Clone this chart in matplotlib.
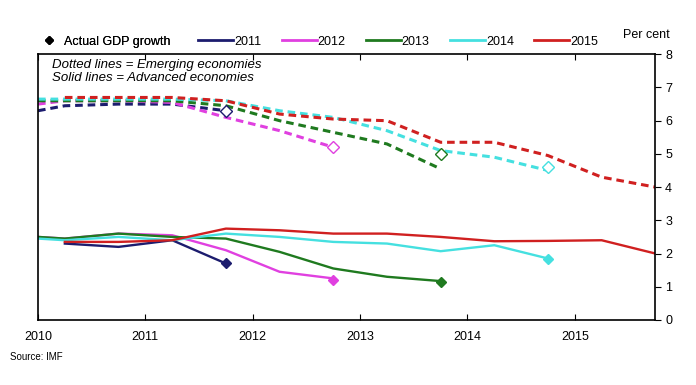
import matplotlib.pyplot as plt
from matplotlib.lines import Line2D

plt.rcParams['font.family'] = ['Liberation Sans', 'DejaVu Sans']

# semi-annual forecast dates
t = [2010.0, 2010.25, 2010.75, 2011.25, 2011.75, 2012.25, 2012.75,
     2013.25, 2013.75, 2014.25, 2014.75, 2015.25, 2015.75]

# emerging economies (dashed)
em_2011 = [6.3, 6.45, 6.5, 6.5, 6.3]
em_2012 = [6.5, 6.6, 6.6, 6.55, 6.1, 5.7, 5.2]
em_2013 = [6.6, 6.6, 6.6, 6.6, 6.45, 6.0, 5.65, 5.3, 4.55]
em_2014 = [6.65, 6.65, 6.65, 6.65, 6.6, 6.3, 6.1, 5.7, 5.1, 4.9, 4.5]
em_2015 = [None, 6.7, 6.7, 6.7, 6.6, 6.2, 6.05, 6.0, 5.35, 5.35, 4.95, 4.3, 4.0]

# advanced economies (solid)
ae_2011 = [None, 2.3, 2.2, 2.4, 1.7]
ae_2012 = [2.5, 2.45, 2.6, 2.55, 2.1, 1.45, 1.25]
ae_2013 = [2.5, 2.45, 2.6, 2.5, 2.45, 2.05, 1.55, 1.3, 1.17]
ae_2014 = [2.45, 2.4, 2.5, 2.4, 2.6, 2.5, 2.35, 2.3, 2.07, 2.25, 1.85]
ae_2015 = [None, 2.35, 2.35, 2.4, 2.75, 2.7, 2.6, 2.6, 2.5, 2.37, 2.38, 2.4, 2.0]

# actual outturns
act_x = [2011.75, 2012.75, 2013.75, 2014.75]
act_em = [6.3, 5.2, 5.0, 4.6]
act_ae = [1.7, 1.2, 1.15, 1.85]

labels = ["2011", "2012", "2013", "2014", "2015"]
colors = ["#1c1c6e", "#e040e0", "#1f7a1f", "#45e0e0", "#d02020"]

em = [em_2011, em_2012, em_2013, em_2014, em_2015]
ae = [ae_2011, ae_2012, ae_2013, ae_2014, ae_2015]

fig = plt.figure(figsize=(6.96, 3.85), dpi=100)
ax = fig.add_axes([0.0546, 0.169, 0.887, 0.69])

for i in range(5):
    xs = [x for x, v in zip(t, em[i]) if v is not None]
    vs = [v for v in em[i] if v is not None]
    ax.plot(xs, vs, color=colors[i], lw=2.2, ls=(0, (2.5, 1.6)))
    xs = [x for x, v in zip(t, ae[i]) if v is not None]
    vs = [v for v in ae[i] if v is not None]
    ax.plot(xs, vs, color=colors[i], lw=1.7)

for i in range(4):
    ax.plot(act_x[i], act_em[i], marker="D", ms=6.5, mfc="white", mec=colors[i], mew=1)
    ax.plot(act_x[i], act_ae[i], marker="D", ms=5.5, color=colors[i])

ax.set_xlim(2010, 2015.75)
ax.set_ylim(0, 8)
ax.set_xticks([2010, 2011, 2012, 2013, 2014, 2015])
ax.set_xticklabels(["2010", "2011", "2012", "2013", "2014", "2015"])
ax.set_yticks(range(0, 9))
ax.yaxis.tick_right()
ax.tick_params(axis="x", direction="in", length=4, top=True, labelsize=9, pad=8)
ax.tick_params(axis="y", direction="out", length=4, labelsize=9, pad=3)
for s in ax.spines.values():
    s.set_linewidth(1.2)

ax.text(2010.13, 7.85, "Dotted lines = Emerging economies\nSolid lines = Advanced economies",
        style="italic", fontsize=9.5, va="top", linespacing=1.1)

leg1 = fig.legend([Line2D([], [], color="black", marker="D", ms=4, ls="none")],
                  ["Actual GDP growth"], loc="center left",
                  bbox_to_anchor=(0.052, 0.892), frameon=False, fontsize=9,
                  handlelength=1.2, handletextpad=0.6, borderaxespad=0)
fig.add_artist(leg1)
fig.legend([Line2D([], [], color=c, lw=2) for c in colors], labels,
           loc="center left", bbox_to_anchor=(0.278, 0.892), ncol=5,
           frameon=False, fontsize=9, handlelength=2.8, handletextpad=0.05,
           columnspacing=1.65, borderaxespad=0)

fig.text(0.928, 0.9, "Per cent", fontsize=9, ha="center")
fig.text(0.014, 0.065, "Source: IMF", fontsize=7)

fig.savefig("out.png")
